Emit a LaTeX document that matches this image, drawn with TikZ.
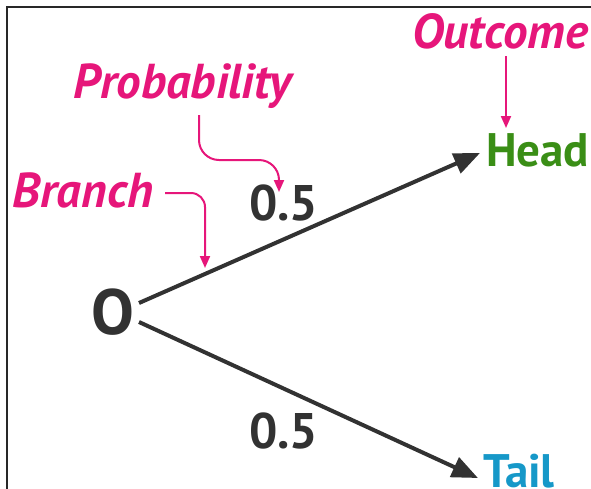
\documentclass[tikz,border=0pt]{standalone}
\usepackage{fontspec}
\setmainfont{PT Sans}
\usetikzlibrary{arrows.meta}
\definecolor{pinkc}{RGB}{230,22,122}
\definecolor{darkc}{RGB}{50,50,50}
\definecolor{greenc}{RGB}{58,142,22}
\definecolor{bluec}{RGB}{22,152,200}
\definecolor{framec}{RGB}{40,40,40}
\begin{document}
\begin{tikzpicture}[x=1pt,y=-1pt,
  lbl/.style={anchor=base west,inner sep=0pt,text=pinkc,font=\fontsize{49}{49}\selectfont\bfseries\itshape},
  num/.style={anchor=base west,inner sep=0pt,text=darkc,font=\fontsize{50}{50}\selectfont\bfseries},
  outc/.style={anchor=base west,inner sep=0pt,font=\fontsize{47}{47}\selectfont\bfseries},
  branchline/.style={draw=darkc,line width=4pt,-{Triangle[length=26pt,width=21pt]}},
  callout/.style={draw=pinkc,line width=2pt,-{Triangle[length=12pt,width=10pt]}}]
\useasboundingbox (0,0) rectangle (591,488);
\begin{scope}
\clip (0,0) rectangle (591,488);
\draw[framec,line width=1.3pt] (7,7) rectangle (620,520);
\end{scope}
% texts
\node[lbl] (outcome) at (412,48) {Outcome};
\node[lbl] (prob) at (73,98) {Probability};
\node[lbl] (branch) at (12,207) {Branch};
\node[num] (p1) at (249,220) {0.5};
\node[num] (p2) at (249,448) {0.5};
\node[anchor=base,inner sep=0pt,text=darkc,font=\fontsize{64}{64}\selectfont\bfseries] (O) at (113,334) {O};
\node[outc,text=greenc] (head) at (486,166) {Head};
\node[outc,text=bluec] (tail) at (483,487) {Tail};
% connector end points
\coordinate (oUp) at (139,303);
\coordinate (oDn) at (139,322);
\coordinate (headTip) at (480,153);
\coordinate (tailTip) at (478,478);
\coordinate (outStart) at (506,56);
\coordinate (outTip) at (506,128);
\coordinate (probStart) at (199,115);
\coordinate (probTip) at (279,192);
\coordinate (brStart) at (165,193);
\coordinate (brTip) at (205,268);
% branches
\draw[branchline] (oUp) -- (headTip);
\draw[branchline] (oDn) -- (tailTip);
% callouts
\draw[callout] (outStart) -- (outTip);
\draw[callout,rounded corners=20pt] (probStart) |- (probTip |- 0,160) -- (probTip);
\draw[callout,rounded corners=14pt] (brStart) -| (brTip);
\end{tikzpicture}
\end{document}
